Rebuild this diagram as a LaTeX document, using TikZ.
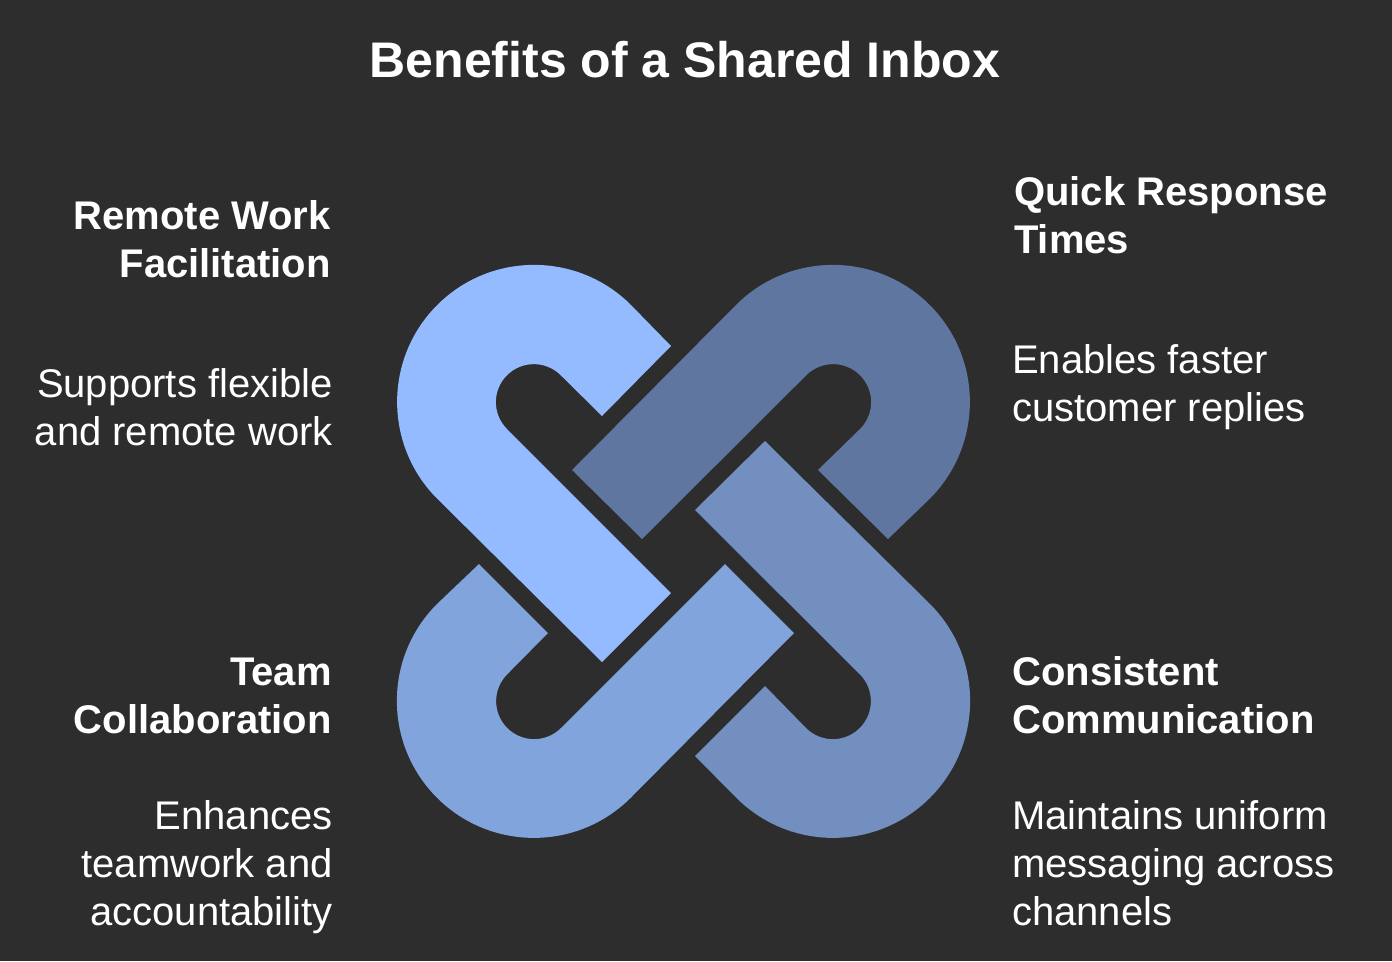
\documentclass[tikz,border=0pt]{standalone}
\usepackage{fontspec}
\setmainfont{Liberation Sans}
\definecolor{bg}{HTML}{2D2D2D}
\definecolor{tl}{HTML}{94BBFF}
\definecolor{tr}{HTML}{5F76A0}
\definecolor{br}{HTML}{728FC0}
\definecolor{bl}{HTML}{82A4DC}
\tikzset{
 titletext/.style={text=white,font=\fontsize{37.5}{48}\selectfont\bfseries,inner sep=0pt},
 headl/.style={text=white,font=\fontsize{30}{36}\selectfont\bfseries,inner sep=0pt,anchor=north east,align=right},
 headr/.style={text=white,font=\fontsize{30}{36}\selectfont\bfseries,inner sep=0pt,anchor=north west,align=left},
 bodyl/.style={text=white,font=\fontsize{30}{36}\selectfont,inner sep=0pt,anchor=north east,align=right},
 bodyr/.style={text=white,font=\fontsize{30}{36}\selectfont,inner sep=0pt,anchor=north west,align=left},
}
\begin{document}
\begin{tikzpicture}[x=0.75pt,y=-0.75pt]
\useasboundingbox (0,0) rectangle (1392,961);
\fill[bg] (0,0) rectangle (1392,961);
\fill[tl] (671,346) -- (631,305) arc[start angle=-45,end angle=-225,radius=137] -- (602,662) -- (671,593) -- (507,429) arc[start angle=-225,end angle=-45,radius=38] -- (602,416) -- cycle;
\fill[tr] (818,470) -- (860,429) arc[start angle=45,end angle=-135,radius=38] -- (642,539) -- (572,470) -- (736,305) arc[start angle=-135,end angle=45,radius=137] -- (888,539) -- cycle;
\fill[br] (765,441) -- (930,604) arc[start angle=-45,end angle=135,radius=137] -- (695,756) -- (765,686) -- (806,728) arc[start angle=135,end angle=-45,radius=38] -- (695,510) -- cycle;
\fill[bl] (479,564) -- (437,604) arc[start angle=-135,end angle=-315,radius=137] -- (794,633) -- (725,564) -- (561,728) arc[start angle=-315,end angle=-135,radius=38] -- (548,633) -- cycle;
\node[titletext] (title) at (685,60) {Benefits of a Shared Inbox};
\node[headl] (h1) at (331,200) {Remote Work\\Facilitation};
\node[bodyl] (b1) at (333,368) {Supports flexible\\and remote work};
\node[headr] (h2) at (1014,176) {Quick Response\\Times};
\node[bodyr] (b2) at (1012,344) {Enables faster\\customer replies};
\node[headl] (h3) at (332,658) {Team\\Collaboration};
\node[bodyl] (b3) at (333,800) {Enhances\\teamwork and\\accountability};
\node[headr] (h4) at (1012,656) {Consistent\\Communication};
\node[bodyr] (b4) at (1012,800) {Maintains uniform\\messaging across\\channels};
\end{tikzpicture}
\end{document}
